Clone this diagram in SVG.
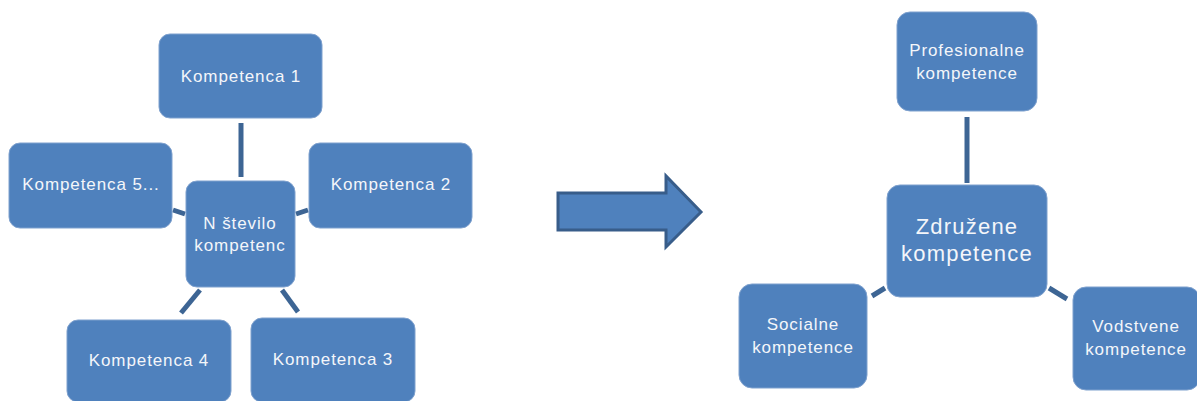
<svg xmlns="http://www.w3.org/2000/svg" width="1197" height="401" viewBox="0 0 1197 401">
<style>
.box{fill:#4F81BD;stroke:#7FA1CE;stroke-width:1}
.t{font-family:"Liberation Sans",Arial,sans-serif;font-size:17px;fill:#F4F6FA;text-anchor:middle;letter-spacing:0.9px}
.tb{font-size:22px;letter-spacing:1.2px}
.c{stroke:#3D6594;stroke-width:5;fill:none}
</style>
<rect width="1197" height="401" fill="#fff"/>
<g id="connectors">
<line class="c" x1="241" y1="123" x2="241" y2="177"/>
<line class="c" x1="173" y1="210" x2="185" y2="214"/>
<line class="c" x1="296" y1="214" x2="308" y2="210"/>
<line class="c" x1="200" y1="290" x2="181" y2="313"/>
<line class="c" x1="282" y1="290" x2="298" y2="312"/>
<line class="c" x1="967" y1="117" x2="967" y2="183"/>
<line class="c" x1="872" y1="296" x2="885" y2="288"/>
<line class="c" x1="1049" y1="288" x2="1067" y2="299"/>
</g>
<g id="k1"><rect class="box" x="159" y="34" width="163" height="84" rx="11"/><text class="t" x="241" y="82">Kompetenca 1</text></g>
<g id="k5"><rect class="box" x="9" y="143" width="163" height="85" rx="11"/><text class="t" x="91" y="190">Kompetenca 5...</text></g>
<g id="k2"><rect class="box" x="309" y="143" width="163" height="85" rx="11"/><text class="t" x="391" y="190">Kompetenca 2</text></g>
<g id="center"><rect class="box" x="186" y="181" width="109" height="106" rx="11"/><text class="t" x="240" y="229">N število</text><text class="t" x="240" y="251">kompetenc</text></g>
<g id="k4"><rect class="box" x="67" y="320" width="164" height="82" rx="11"/><text class="t" x="149" y="366">Kompetenca 4</text></g>
<g id="k3"><rect class="box" x="251" y="318" width="164" height="84" rx="11"/><text class="t" x="333" y="365">Kompetenca 3</text></g>
<g id="arrow"><polygon points="558,193 666,193 666,176 701,212 666,247 666,230 558,230" fill="#4F81BD" stroke="#385D8A" stroke-width="3" stroke-linejoin="miter"/></g>
<g id="prof"><rect class="box" x="897" y="12" width="140" height="99" rx="13"/><text class="t" x="967" y="56">Profesionalne</text><text class="t" x="967" y="79">kompetence</text></g>
<g id="zdr"><rect class="box" x="887" y="185" width="160" height="112" rx="13"/><text class="t tb" x="967" y="234">Združene</text><text class="t tb" x="967" y="261">kompetence</text></g>
<g id="soc"><rect class="box" x="739" y="284" width="128" height="104" rx="13"/><text class="t" x="803" y="330">Socialne</text><text class="t" x="803" y="353">kompetence</text></g>
<g id="vod"><rect class="box" x="1073" y="287" width="127" height="103" rx="13"/><text class="t" x="1136" y="332">Vodstvene</text><text class="t" x="1136" y="355">kompetence</text></g>
</svg>
